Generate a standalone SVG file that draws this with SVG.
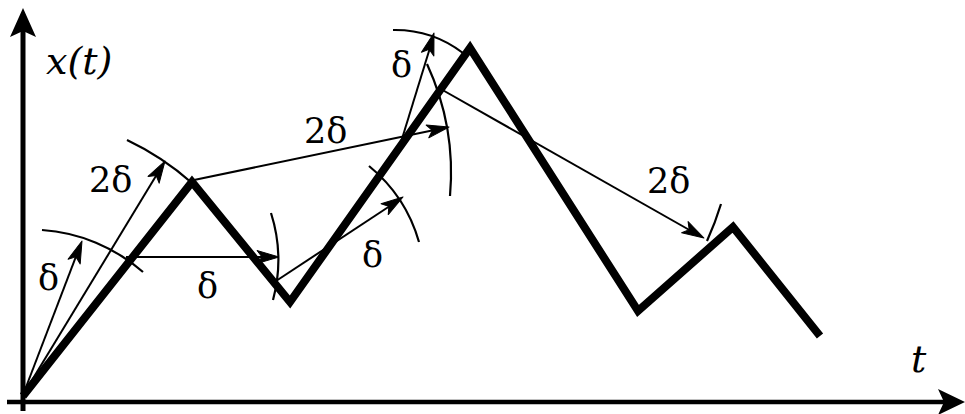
<svg xmlns="http://www.w3.org/2000/svg" width="965" height="414" viewBox="0 0 965 414">
<style>
.arc{fill:none;stroke:#000;stroke-width:2.2}
.arr{fill:none;stroke:#000;stroke-width:2}
.lbl{font-family:'DejaVu Serif','Liberation Serif',serif;font-size:35px;fill:#000}
.it{font-style:italic;font-size:38px}
</style>
<defs>
<path id="head" d="M0,0 L-22,-6.5 L-17,0 L-22,6.5 Z" fill="#000" stroke="#000" stroke-width="1" stroke-linejoin="round"/>
</defs>
<rect width="965" height="414" fill="#fff"/>
<g id="axes">
<line x1="23" y1="411" x2="23" y2="28" stroke="#000" stroke-width="5"/>
<path d="M23,8 L36,37 L23,31 L10,37 Z" fill="#000"/>
<line x1="7" y1="402" x2="945" y2="402" stroke="#000" stroke-width="4.5"/>
<path d="M965,402 L938,389 L944,402 L938,415 Z" fill="#000"/>
</g>
<g id="trajectory">
<polyline points="23,396 192,182 290,302 470,48 638,311 733,227 820,336" fill="none" stroke="#000" stroke-width="8" stroke-linejoin="miter" stroke-miterlimit="10"/>
</g>
<g id="connectors">
<line class="arr" x1="23" y1="395" x2="80" y2="246"/>
<use href="#head" transform="translate(82,241) rotate(-69)"/>
<line class="arr" x1="23" y1="395" x2="162" y2="166"/>
<use href="#head" transform="translate(165,161) rotate(-58.75)"/>
<line class="arr" x1="126" y1="257" x2="274" y2="257"/>
<use href="#head" transform="translate(279,257)"/>
<line class="arr" x1="273" y1="283" x2="399" y2="200"/>
<use href="#head" transform="translate(403,197) rotate(-33.5)"/>
<line class="arr" x1="194" y1="180" x2="444" y2="128"/>
<use href="#head" transform="translate(449,127) rotate(-11.7)"/>
<line class="arr" x1="401" y1="142" x2="433" y2="38"/>
<use href="#head" transform="translate(434,33) rotate(-73.2)"/>
<line class="arr" x1="439" y1="88" x2="700" y2="236"/>
<use href="#head" transform="translate(704,238) rotate(29.5)"/>
</g>
<g id="arcs">
<path class="arc" d="M42,230 A170,170 0 0 1 143,272"/>
<path class="arc" d="M127,140 A275,275 0 0 1 192,183"/>
<path class="arc" d="M271,213 A155,155 0 0 1 273,300"/>
<path class="arc" d="M427,64 A260,260 0 0 1 450,196"/>
<path class="arc" d="M369,166 A152,152 0 0 1 419,242"/>
<path class="arc" d="M393,30 A112,112 0 0 1 463,53"/>
<path class="arc" d="M721,204 A302,302 0 0 1 707,241"/>
</g>
<g id="labels">
<text class="lbl it" x="46" y="74">x(t)</text>
<text class="lbl it" x="911" y="372">t</text>
<text class="lbl" x="38" y="290">δ</text>
<text class="lbl" x="89" y="192">2δ</text>
<text class="lbl" x="197" y="298">δ</text>
<text class="lbl" x="362" y="267">δ</text>
<text class="lbl" x="391" y="77">δ</text>
<text class="lbl" x="304" y="143">2δ</text>
<text class="lbl" x="647" y="193">2δ</text>
</g>
</svg>
